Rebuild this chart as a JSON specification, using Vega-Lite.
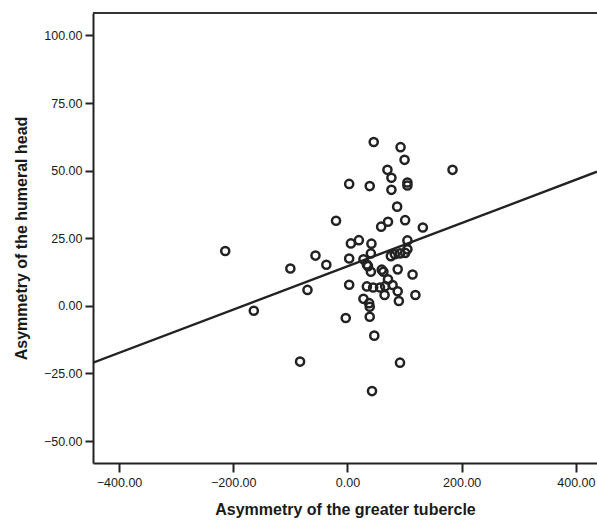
{
  "$schema": "https://vega.github.io/schema/vega-lite/v6.json",
  "width": 504,
  "height": 450,
  "autosize": {"type": "none"},
  "padding": {"left": 93, "top": 13, "right": 0, "bottom": 59},
  "background": "white",
  "config": {
    "view": {"stroke": null},
    "font": "Liberation Sans",
    "axis": {
      "domainColor": "#222222",
      "domainWidth": 2,
      "tickColor": "#222222",
      "tickWidth": 2,
      "labelColor": "#1a1a1a",
      "labelFont": "Liberation Sans",
      "labelFontSize": 12.5,
      "titleColor": "#1a1a1a",
      "titleFont": "Liberation Sans",
      "titleFontSize": 16,
      "titleFontWeight": "bold",
      "grid": false
    }
  },
  "datasets": {
    "cases": [
      {"tubercle": 46, "head": 60.6},
      {"tubercle": 93, "head": 58.7},
      {"tubercle": 100, "head": 54.0},
      {"tubercle": 184, "head": 50.3},
      {"tubercle": 70, "head": 50.3},
      {"tubercle": 77, "head": 47.4},
      {"tubercle": 105, "head": 45.6},
      {"tubercle": 105, "head": 44.5},
      {"tubercle": 3, "head": 45.1},
      {"tubercle": 39, "head": 44.3},
      {"tubercle": 77, "head": 42.9},
      {"tubercle": 87, "head": 36.7},
      {"tubercle": -20, "head": 31.5},
      {"tubercle": 71, "head": 31.1},
      {"tubercle": 59, "head": 29.3},
      {"tubercle": 101, "head": 31.7},
      {"tubercle": 132, "head": 29.0},
      {"tubercle": 20, "head": 24.3},
      {"tubercle": 6, "head": 23.1},
      {"tubercle": 42, "head": 23.0},
      {"tubercle": 105, "head": 24.2},
      {"tubercle": -214, "head": 20.3},
      {"tubercle": -56, "head": 18.6},
      {"tubercle": -37, "head": 15.2},
      {"tubercle": -100, "head": 13.8},
      {"tubercle": 3, "head": 17.5},
      {"tubercle": 41, "head": 19.4},
      {"tubercle": 28, "head": 17.2},
      {"tubercle": 34, "head": 15.3},
      {"tubercle": 36, "head": 14.7},
      {"tubercle": 41, "head": 12.6},
      {"tubercle": 60, "head": 13.4},
      {"tubercle": 63, "head": 12.6},
      {"tubercle": 88, "head": 13.5},
      {"tubercle": 114, "head": 11.6},
      {"tubercle": 76, "head": 18.4},
      {"tubercle": 83, "head": 19.1},
      {"tubercle": 92, "head": 19.4},
      {"tubercle": 101, "head": 19.6},
      {"tubercle": 105, "head": 20.9},
      {"tubercle": 71, "head": 9.8},
      {"tubercle": 3, "head": 7.8},
      {"tubercle": 34, "head": 7.2},
      {"tubercle": 45, "head": 6.8},
      {"tubercle": 57, "head": 6.8},
      {"tubercle": 66, "head": 7.3},
      {"tubercle": 79, "head": 7.7},
      {"tubercle": 88, "head": 5.4},
      {"tubercle": 65, "head": 4.0},
      {"tubercle": 90, "head": 1.8},
      {"tubercle": 119, "head": 4.0},
      {"tubercle": 28, "head": 2.6},
      {"tubercle": 38, "head": 1.0},
      {"tubercle": 39, "head": -0.3},
      {"tubercle": 39, "head": -4.0},
      {"tubercle": -3, "head": -4.5},
      {"tubercle": -164, "head": -1.8},
      {"tubercle": -70, "head": 5.9},
      {"tubercle": -83, "head": -20.6},
      {"tubercle": 47, "head": -11.0},
      {"tubercle": 92, "head": -21.0},
      {"tubercle": 43, "head": -31.5}
    ],
    "fit": [
      {"tubercle": -445.6, "head": -21.0},
      {"tubercle": 437, "head": 49.6}
    ]
  },
  "layer": [
    {
      "data": {"name": "fit"},
      "mark": {"type": "line", "color": "#222222", "strokeWidth": 2.4, "clip": true},
      "encoding": {
        "x": {
          "field": "tubercle",
          "type": "quantitative",
          "scale": {"domain": [-445.6, 437], "nice": false, "zero": false},
          "axis": {
            "title": "Asymmetry of the greater tubercle",
            "values": [-400, -200, 0, 200, 400],
            "format": ".2f",
            "tickSize": 9,
            "labelPadding": 4,
            "titlePadding": 13
          }
        },
        "y": {
          "field": "head",
          "type": "quantitative",
          "scale": {"domain": [-58.1, 108.3], "nice": false, "zero": false},
          "axis": {
            "title": "Asymmetry of the humeral head",
            "values": [-50, -25, 0, 25, 50, 75, 100],
            "format": ".2f",
            "tickSize": 8,
            "labelPadding": 3,
            "titlePadding": 14
          }
        }
      }
    },
    {
      "data": {"name": "cases"},
      "mark": {"type": "point", "shape": "circle", "filled": false, "color": "#222222", "strokeWidth": 2.5, "size": 66, "opacity": 1},
      "encoding": {
        "x": {"field": "tubercle", "type": "quantitative"},
        "y": {"field": "head", "type": "quantitative"}
      }
    },
    {
      "data": {"values": [{}]},
      "mark": {"type": "rule", "color": "#333333", "strokeWidth": 2},
      "encoding": {
        "x": {"datum": -445.6, "type": "quantitative"},
        "x2": {"datum": 437},
        "y": {"datum": 108.3, "type": "quantitative"}
      }
    }
  ]
}
